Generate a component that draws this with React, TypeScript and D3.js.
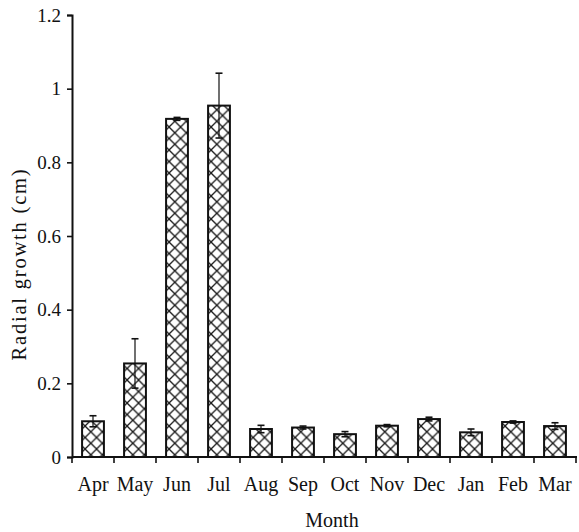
import { useEffect, useRef } from 'react'
import * as d3 from 'd3'

const MONTHS = ['Apr', 'May', 'Jun', 'Jul', 'Aug', 'Sep', 'Oct', 'Nov', 'Dec', 'Jan', 'Feb', 'Mar']
const GROWTH = [0.097, 0.254, 0.918, 0.954, 0.076, 0.080, 0.062, 0.085, 0.103, 0.067, 0.095, 0.084]
const ERRORS = [0.015, 0.067, 0.004, 0.088, 0.010, 0.004, 0.007, 0.003, 0.005, 0.009, 0.003, 0.009]
const Y_TICKS = [0, 0.2, 0.4, 0.6, 0.8, 1, 1.2]

const WIDTH = 579
const HEIGHT = 532
const MARGIN = { top: 15, right: 3, bottom: 75, left: 72 }
const FONT = '"Liberation Serif", "Times New Roman", serif'
const INK = '#111'

export default function App() {
  const svgRef = useRef<SVGSVGElement>(null)

  useEffect(() => {
    const svgEl = svgRef.current
    if (!svgEl) return

    const innerWidth = WIDTH - MARGIN.left - MARGIN.right
    const innerHeight = HEIGHT - MARGIN.top - MARGIN.bottom

    const svg = d3.select(svgEl)
    svg.selectAll('*').remove()
    const g = svg.append('g').attr('transform', `translate(${MARGIN.left},${MARGIN.top})`)

    // ── Scales ────────────────────────────────────────────────────────────────
    const x = d3.scaleBand<string>().domain(MONTHS).range([0, innerWidth])
      .paddingInner(0.48).paddingOuter(0.24)
    const y = d3.scaleLinear([0, 1.2], [innerHeight, 0])

    // ── Cross-hatch patterns, one per bar so the lattice starts at the bar edge ──
    const defs = svg.append('defs')
    const cell = 11.5
    MONTHS.forEach((m, i) => {
      const p = defs.append('pattern')
        .attr('id', `hatch-${i}`)
        .attr('patternUnits', 'userSpaceOnUse')
        .attr('x', MARGIN.left + x(m)!).attr('y', MARGIN.top + innerHeight)
        .attr('width', cell).attr('height', cell)
      p.append('rect').attr('width', cell).attr('height', cell).attr('fill', '#fff')
      p.append('path')
        .attr('d', `M0,0L${cell},${cell}M${cell},0L0,${cell}M-1,1L1,-1M${cell - 1},${cell + 1}L${cell + 1},${cell - 1}`)
        .attr('stroke', '#1a1a1a').attr('stroke-width', 1.35).attr('fill', 'none')
    })

    // ── Bars ──────────────────────────────────────────────────────────────────
    MONTHS.forEach((m, i) => {
      g.append('rect')
        .attr('x', x(m)!).attr('y', y(GROWTH[i]))
        .attr('width', x.bandwidth()).attr('height', innerHeight - y(GROWTH[i]))
        .attr('fill', `url(#hatch-${i})`)
        .attr('stroke', INK).attr('stroke-width', 2)
    })

    // ── Error bars ────────────────────────────────────────────────────────────
    MONTHS.forEach((m, i) => {
      const cx = x(m)! + x.bandwidth() / 2
      const hi = y(GROWTH[i] + ERRORS[i])
      const lo = y(GROWTH[i] - ERRORS[i])
      g.append('line')
        .attr('x1', cx).attr('x2', cx).attr('y1', hi).attr('y2', lo)
        .attr('stroke', INK).attr('stroke-width', 1.2)
      ;[hi, lo].forEach(v => {
        g.append('line')
          .attr('x1', cx - 3.5).attr('x2', cx + 3.5).attr('y1', v).attr('y2', v)
          .attr('stroke', INK).attr('stroke-width', 1.6)
      })
    })

    // ── Y axis ────────────────────────────────────────────────────────────────
    g.append('g')
      .call(d3.axisLeft(y).tickValues(Y_TICKS).tickSize(5).tickPadding(6).tickFormat(d => `${d}`))
      .call(ag => ag.select('.domain').attr('stroke', INK).attr('stroke-width', 2))
      .call(ag => ag.selectAll('.tick line').attr('stroke', INK).attr('stroke-width', 1.6))
      .call(ag => ag.selectAll('text').attr('fill', INK).attr('font-size', 19).attr('font-family', FONT))

    // ── X axis: ticks between categories, labels at centres ──────────────────
    const xa = g.append('g').attr('transform', `translate(0,${innerHeight})`)
    xa.append('line')
      .attr('x1', 0).attr('x2', innerWidth + 1)
      .attr('stroke', INK).attr('stroke-width', 2)
    d3.range(MONTHS.length + 1).forEach(i => {
      const tx = Math.min(i * x.step(), innerWidth)
      xa.append('line')
        .attr('x1', tx).attr('x2', tx).attr('y1', 0).attr('y2', 6)
        .attr('stroke', INK).attr('stroke-width', 1.6)
    })
    MONTHS.forEach(m => {
      xa.append('text')
        .attr('x', x(m)! + x.bandwidth() / 2).attr('y', 34)
        .attr('text-anchor', 'middle').attr('font-size', 20)
        .attr('font-family', FONT).attr('fill', INK)
        .text(m)
    })

    // ── Axis titles ───────────────────────────────────────────────────────────
    svg.append('text')
      .attr('x', 332).attr('y', 527)
      .attr('text-anchor', 'middle').attr('font-size', 20)
      .attr('font-family', FONT).attr('fill', INK)
      .text('Month')

    svg.append('text')
      .attr('transform', `translate(26,264) rotate(-90)`)
      .attr('text-anchor', 'middle').attr('font-size', 20.5)
      .attr('letter-spacing', 1.8)
      .attr('font-family', FONT).attr('fill', INK)
      .text('Radial growth (cm)')
  }, [])

  return (
    <svg
      ref={svgRef}
      width={WIDTH}
      height={HEIGHT}
      style={{ position: 'absolute', left: 0, top: 0, background: '#fff' }}
    />
  )
}
